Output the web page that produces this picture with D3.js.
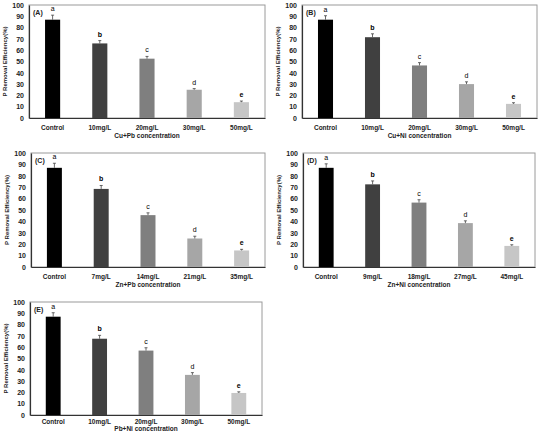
<!DOCTYPE html>
<html>
<head>
<meta charset="utf-8">
<script src="https://cdn.jsdelivr.net/npm/d3@7"></script>
<style>
  body { margin: 0; background: #fff; }
  svg { display: block; font-family: "Liberation Sans", Arial, sans-serif; }
</style>
</head>
<body>
<svg id="chart" width="540" height="431"></svg>
<script>
// data
const catsA = ["Control", "10mg/L", "20mg/L", "30mg/L", "50mg/L"];
const valsA = [87, 66, 52.5, 25, 14];
const errsA = [4, 2.5, 2, 1, 1];
const catsB = ["Control", "10mg/L", "20mg/L", "30mg/L", "50mg/L"];
const valsB = [87, 71.5, 46.5, 30, 12.5];
const errsB = [3.5, 3, 2.5, 2, 1];
const catsC = ["Control", "7mg/L", "14mg/L", "21mg/L", "35mg/L"];
const valsC = [87, 68.5, 45.5, 25, 14.5];
const errsC = [4, 3, 2, 2, 1];
const catsD = ["Control", "9mg/L", "18mg/L", "27mg/L", "45mg/L"];
const valsD = [87, 72.5, 56.5, 38.5, 18.5];
const errsD = [3.5, 3, 2.5, 2, 1];
const catsE = ["Control", "10mg/L", "20mg/L", "30mg/L", "50mg/L"];
const valsE = [87, 67.5, 57, 35.5, 19.5];
const errsE = [3.5, 3, 2.5, 2, 1];
const letters = ["a", "b", "c", "d", "e"];
const yTicks = [0, 10, 20, 30, 40, 50, 60, 70, 80, 90, 100];
const barColors = ["#000000", "#404040", "#7f7f7f", "#a6a6a6", "#c6c6c6"];

const panels = [
    {label: "(A)", title: "Cu+Pb concentration", cats: catsA, vals: valsA, errs: errsA, left: 29, right: 265, top: 5, bottom: 118, pad: 7, titleDy: 20},
    {label: "(B)", title: "Cu+Ni concentration", cats: catsB, vals: valsB, errs: errsB, left: 302, right: 537, top: 5, bottom: 118, pad: 7, titleDy: 20},
    {label: "(C)", title: "Zn+Pb concentration", cats: catsC, vals: valsC, errs: errsC, left: 31, right: 265, top: 153, bottom: 267, pad: 7, titleDy: 20},
    {label: "(D)", title: "Zn+Ni concentration", cats: catsD, vals: valsD, errs: errsD, left: 303, right: 535, top: 153, bottom: 267, pad: 7, titleDy: 20},
    {label: "(E)", title: "Pb+Ni concentration", cats: catsE, vals: valsE, errs: errsE, left: 30, right: 262, top: 302, bottom: 415, pad: 4, titleDy: 15.5}
];

const svg = d3.select("#chart");

panels.forEach(p => drawPanel(p));

function drawPanel(p) {
    const g = svg.append("g");

    const x = d3.scaleBand()
        .domain(p.cats)
        .range([p.left, p.right])
        .paddingInner(0.68)
        .paddingOuter(0.34);

    const y = d3.scaleLinear()
        .domain([0, 100])
        .range([p.bottom, p.top]);

    // plot box
    g.append("rect")
        .attr("x", p.left)
        .attr("y", p.top)
        .attr("width", p.right - p.left)
        .attr("height", p.bottom - p.top)
        .attr("fill", "none")
        .attr("stroke", "#9a9a9a")
        .attr("stroke-width", 1);

    // y axis
    const yAxis = d3.axisLeft(y).tickValues(yTicks).tickSize(0).tickPadding(5);
    const ya = g.append("g")
        .attr("transform", `translate(${p.left},0)`)
        .call(yAxis);
    ya.select(".domain").attr("stroke", "#333").attr("stroke-width", 1.2);
    ya.selectAll("text")
        .attr("font-size", 7)
        .attr("font-weight", "bold")
        .attr("fill", "#222");

    // x axis
    const xAxis = d3.axisBottom(x).tickSize(0).tickPadding(p.pad);
    const xa = g.append("g")
        .attr("transform", `translate(0,${p.bottom})`)
        .call(xAxis);
    xa.select(".domain").attr("stroke", "#333").attr("stroke-width", 1.2);
    xa.selectAll("text")
        .attr("font-size", 6.5)
        .attr("font-weight", "bold")
        .attr("fill", "#222");

    const rows = p.cats.map((c, i) => ({cat: c, val: p.vals[i], err: p.errs[i], i: i}));

    // bars
    g.selectAll(".bar")
        .data(rows)
        .enter()
        .append("rect")
        .attr("class", "bar")
        .attr("x", d => x(d.cat))
        .attr("y", d => y(d.val))
        .attr("width", x.bandwidth())
        .attr("height", d => y(0) - y(d.val))
        .attr("fill", d => barColors[d.i]);

    // error bars
    const cx = d => x(d.cat) + x.bandwidth() / 2;
    g.selectAll(".err")
        .data(rows)
        .enter()
        .append("path")
        .attr("class", "err")
        .attr("d", d => `M${cx(d)},${y(d.val)}V${y(d.val + d.err)}M${cx(d) - 1.5},${y(d.val + d.err)}H${cx(d) + 1.5}`)
        .attr("stroke", "#444")
        .attr("stroke-width", 0.8)
        .attr("fill", "none");

    // significance letters
    g.selectAll(".sig")
        .data(rows)
        .enter()
        .append("text")
        .attr("class", "sig")
        .attr("x", cx)
        .attr("y", d => y(d.val + d.err) - 4)
        .attr("text-anchor", "middle")
        .attr("font-size", 7)
        .attr("font-weight", d => (d.i === 1 || d.i === 4) ? "bold" : "normal")
        .attr("fill", "#000")
        .text(d => letters[d.i]);

    // panel label
    g.append("text")
        .attr("x", p.left + 4)
        .attr("y", p.top + 10)
        .attr("font-size", 7)
        .attr("font-weight", "bold")
        .attr("fill", "#222")
        .text(p.label);

    // y title
    g.append("text")
        .attr("transform", `translate(${p.left - 22},${(p.top + p.bottom) / 2}) rotate(-90)`)
        .attr("text-anchor", "middle")
        .attr("font-size", 6)
        .attr("font-weight", "bold")
        .attr("fill", "#222")
        .text("P Removal Efficiency(%)");

    // x title
    g.append("text")
        .attr("x", (p.left + p.right) / 2)
        .attr("y", p.bottom + p.titleDy)
        .attr("text-anchor", "middle")
        .attr("font-size", 6.5)
        .attr("font-weight", "bold")
        .attr("fill", "#222")
        .text(p.title);
}
</script>
</body>
</html>
